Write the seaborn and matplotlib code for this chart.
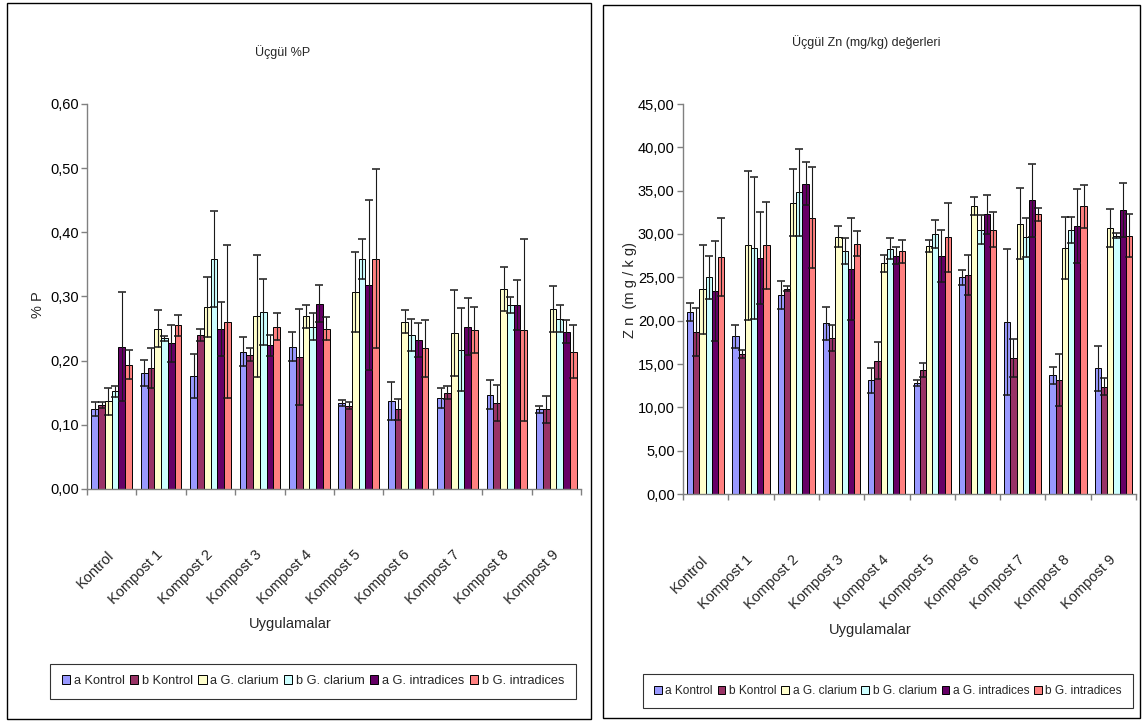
import numpy as np
import pandas as pd
import matplotlib
matplotlib.use("Agg")
import matplotlib.pyplot as plt
import seaborn as sns
from matplotlib import font_manager
from matplotlib.patches import Patch, Rectangle
from matplotlib.ticker import FuncFormatter, FixedLocator, MultipleLocator

# ---- data -------------------------------------------------------------
categories = ["Kontrol"] + [f"Kompost {i}" for i in range(1, 10)]
series = ["a Kontrol", "b Kontrol", "a G. clarium", "b G. clarium",
          "a G. intradices", "b G. intradices"]
colors = ["#9999FF", "#993366", "#FFFFCC", "#CCFFFF", "#660066", "#FF8080"]

# Üçgül %P — means and error values per series (category order)
p_a_kontrol = [0.124, 0.181, 0.176, 0.214, 0.222, 0.134, 0.137, 0.142, 0.147, 0.124]
p_b_kontrol = [0.131, 0.189, 0.240, 0.209, 0.206, 0.130, 0.124, 0.150, 0.134, 0.124]
p_a_clarium = [0.137, 0.250, 0.284, 0.269, 0.269, 0.307, 0.261, 0.243, 0.312, 0.281]
p_b_clarium = [0.152, 0.235, 0.359, 0.276, 0.253, 0.359, 0.240, 0.217, 0.287, 0.265]
p_a_intradices = [0.222, 0.227, 0.250, 0.224, 0.289, 0.318, 0.232, 0.253, 0.287, 0.245]
p_b_intradices = [0.194, 0.255, 0.261, 0.253, 0.250, 0.359, 0.219, 0.248, 0.248, 0.214]

p_err_a_kontrol = [0.011, 0.020, 0.034, 0.023, 0.023, 0.005, 0.029, 0.016, 0.023, 0.005]
p_err_b_kontrol = [0.004, 0.031, 0.010, 0.010, 0.075, 0.005, 0.016, 0.010, 0.028, 0.021]
p_err_a_clarium = [0.021, 0.029, 0.047, 0.095, 0.018, 0.062, 0.018, 0.067, 0.034, 0.036]
p_err_b_clarium = [0.008, 0.004, 0.075, 0.051, 0.021, 0.031, 0.025, 0.065, 0.013, 0.021]
p_err_a_intradices = [0.085, 0.029, 0.042, 0.016, 0.029, 0.132, 0.026, 0.044, 0.039, 0.018]
p_err_b_intradices = [0.023, 0.016, 0.119, 0.021, 0.018, 0.140, 0.044, 0.036, 0.142, 0.041]

# Üçgül Zn (mg/kg) — means and error values per series (category order)
zn_a_kontrol = [21.0, 18.2, 23.0, 19.7, 13.1, 12.8, 25.0, 19.85, 13.7, 14.5]
zn_b_kontrol = [18.7, 16.2, 23.7, 18.0, 15.4, 14.3, 25.3, 15.65, 13.2, 12.4]
zn_a_clarium = [23.6, 28.7, 33.6, 29.7, 26.6, 28.6, 33.2, 31.2, 28.4, 30.7]
zn_b_clarium = [25.0, 28.4, 34.8, 28.0, 28.3, 30.0, 30.5, 29.6, 30.5, 29.8]
zn_a_intradices = [23.4, 27.2, 35.8, 26.0, 27.5, 27.5, 32.3, 33.9, 30.9, 32.8]
zn_b_intradices = [27.3, 28.7, 31.9, 28.9, 28.0, 29.6, 30.5, 32.3, 33.2, 29.8]

zn_err_a_kontrol = [1.0, 1.35, 1.6, 1.9, 1.45, 0.3, 0.85, 8.4, 1.0, 2.6]
zn_err_b_kontrol = [2.8, 0.45, 0.3, 1.55, 2.1, 0.8, 2.3, 2.2, 3.0, 1.0]
zn_err_a_clarium = [5.1, 8.6, 3.85, 1.2, 1.0, 0.7, 1.05, 4.1, 3.6, 2.2]
zn_err_b_clarium = [2.5, 8.2, 5.0, 1.5, 1.2, 1.6, 1.7, 2.2, 1.5, 0.3]
zn_err_a_intradices = [5.8, 5.3, 2.5, 5.9, 1.0, 3.0, 2.25, 4.2, 4.3, 3.1]
zn_err_b_intradices = [4.5, 5.0, 5.8, 1.45, 1.35, 4.0, 2.0, 0.75, 2.5, 2.45]

p_values = [p_a_kontrol, p_b_kontrol, p_a_clarium, p_b_clarium, p_a_intradices, p_b_intradices]
p_errors = [p_err_a_kontrol, p_err_b_kontrol, p_err_a_clarium, p_err_b_clarium,
            p_err_a_intradices, p_err_b_intradices]
zn_values = [zn_a_kontrol, zn_b_kontrol, zn_a_clarium, zn_b_clarium, zn_a_intradices, zn_b_intradices]
zn_errors = [zn_err_a_kontrol, zn_err_b_kontrol, zn_err_a_clarium, zn_err_b_clarium,
             zn_err_a_intradices, zn_err_b_intradices]

# ---- style ------------------------------------------------------------
sns.set_theme(style="white")
available = {f.name for f in font_manager.fontManager.ttflist}
narrow = "Liberation Sans Narrow" in available
base_font = "Liberation Sans Narrow" if narrow else "Liberation Sans"
plt.rcParams["font.family"] = [base_font, "DejaVu Sans"]
FS = 12 if narrow else 10.5
LEG_FS_LEFT = 11.5 if narrow else 9.2
LEG_FS_RIGHT = 11 if narrow else 8.6

W, H = 1143, 722
fig = plt.figure(figsize=(W / 100, H / 100), dpi=100)
fig.patch.set_facecolor("white")


def fx(px):
    return px / W


def fy(py):
    return 1 - py / H


def comma(fmt):
    return FuncFormatter(lambda v, _: format(v, fmt).replace(".", ","))


def draw_panel(ax, values, errors, ymax, ystep):
    rows = []
    for name, vals in zip(series, values):
        for cat, v in zip(categories, vals):
            rows.append({"Uygulama": cat, "Seri": name, "Değer": v})
    df = pd.DataFrame(rows)
    sns.barplot(data=df, x="Uygulama", y="Değer", hue="Seri", order=categories,
                hue_order=series, palette=colors, saturation=1, width=0.82, gap=0,
                errorbar=None, edgecolor="black", linewidth=0.7, legend=False, ax=ax)
    for cont, errs in zip(ax.containers, errors):
        xs = [b.get_x() + b.get_width() / 2 for b in cont]
        hs = [b.get_height() for b in cont]
        ax.errorbar(xs, hs, yerr=errs, fmt="none", ecolor="#1a1a1a",
                    elinewidth=0.8, capsize=3, capthick=1.1, zorder=5)

    ax.set_xlim(-0.5, len(categories) - 0.5)
    ax.set_ylim(0, ymax)
    ax.yaxis.set_major_locator(MultipleLocator(ystep))
    ax.yaxis.set_major_formatter(comma(".2f"))
    ax.set_xlabel("")
    ax.set_ylabel("")
    for side in ("top", "right"):
        ax.spines[side].set_visible(False)
    for side in ("left", "bottom"):
        ax.spines[side].set_color("#808080")
        ax.spines[side].set_linewidth(1.0)
    ax.tick_params(axis="y", which="major", direction="out", length=4, width=1,
                   color="#808080", labelsize=FS, labelcolor="black", pad=2, left=True)
    ax.xaxis.set_minor_locator(FixedLocator(np.arange(-0.5, len(categories), 1.0)))
    ax.tick_params(axis="x", which="minor", direction="out", length=4, width=1,
                   color="#808080", bottom=True)
    ax.tick_params(axis="x", which="major", length=0, pad=46)
    ax.set_xticks(range(len(categories)))
    ax.set_xticklabels(categories, rotation=45, ha="right", va="center",
                       rotation_mode="anchor", fontsize=FS)
    ax.set_facecolor("white")
    ax.grid(False)


# ---- left panel: %P ---------------------------------------------------
ax1 = fig.add_axes([fx(87), fy(489), fx(581 - 87), (489 - 104) / H])
draw_panel(ax1, p_values, p_errors, 0.60, 0.10)

# ---- right panel: Zn --------------------------------------------------
ax2 = fig.add_axes([fx(683), fy(494), fx(1136 - 683), (494 - 104) / H])
draw_panel(ax2, zn_values, zn_errors, 45, 5)

# panel frames
for x0, x1, y0, y1 in [(7, 591, 3, 719), (603, 1140, 5, 718)]:
    fig.add_artist(Rectangle((fx(x0), fy(y1)), fx(x1 - x0), (y1 - y0) / H,
                             transform=fig.transFigure, fill=False,
                             edgecolor="black", linewidth=1.0))

# titles and axis labels
fig.text(fx(283), fy(52), "Üçgül %P", ha="center", va="center", fontsize=FS - 1.5)
fig.text(fx(866), fy(42), "Üçgül Zn (mg/kg) değerleri", ha="center", va="center", fontsize=FS - 1.5)
fig.text(fx(290), fy(624), "Uygulamalar", ha="center", va="center", fontsize=FS)
fig.text(fx(870), fy(630), "Uygulamalar", ha="center", va="center", fontsize=FS)
fig.text(fx(38), fy(305), "% P", ha="center", va="center", rotation=90, fontsize=FS)
fig.text(fx(630), fy(290), "Z n  (m g / k g)", ha="center", va="center", rotation=90, fontsize=FS)

# legends
handles = [Patch(facecolor=c, edgecolor="black", linewidth=0.7, label=s)
           for c, s in zip(colors, series)]
for cx, cy, lfs in [(313, 681, LEG_FS_LEFT), (888, 691, LEG_FS_RIGHT)]:
    leg = fig.legend(handles=handles, loc="center", bbox_to_anchor=(fx(cx), fy(cy)),
                     ncol=6, frameon=True, fancybox=False, edgecolor="black",
                     handlelength=0.65, handleheight=0.65, handletextpad=0.3,
                     columnspacing=0.4, borderpad=0.9, borderaxespad=0, fontsize=lfs)
    leg.get_frame().set_linewidth(0.8)

fig.savefig("out.png", dpi=100, facecolor="white")
